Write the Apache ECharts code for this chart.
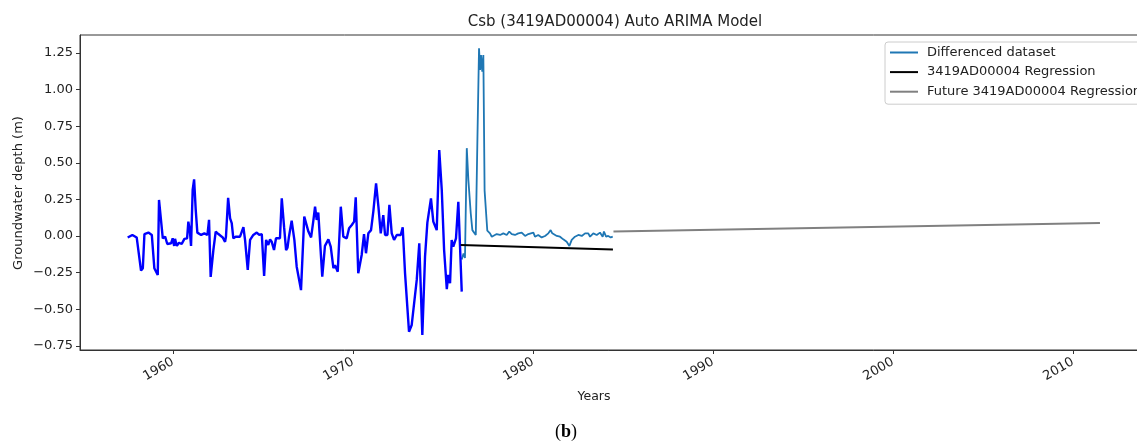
<!DOCTYPE html>
<html>
<head>
<meta charset="utf-8">
<script src="https://cdn.jsdelivr.net/npm/echarts@6/dist/echarts.min.js"></script>
<style>
html,body{margin:0;padding:0;background:#fff;overflow:hidden;}
#chart{width:1137px;height:443px;}
</style>
</head>
<body>
<div id="chart"></div>
<script>
// Observed (blue) series: [year, value]
const observedYears = [1957.48,1957.74,1957.98,1958.07,1958.22,1958.32,1958.41,1958.63,1958.82,1958.96,1959.15,1959.22,1959.32,1959.43,1959.56,1959.68,1959.89,1959.98,1960.06,1960.11,1960.21,1960.33,1960.48,1960.63,1960.78,1960.85,1960.93,1961.00,1961.09,1961.17,1961.26,1961.35,1961.56,1961.74,1961.91,1962.00,1962.09,1962.24,1962.37,1962.52,1962.76,1962.89,1962.94,1963.06,1963.17,1963.26,1963.35,1963.48,1963.72,1963.82,1963.91,1964.00,1964.15,1964.28,1964.46,1964.65,1964.79,1964.93,1965.06,1965.17,1965.29,1965.39,1965.48,1965.61,1965.72,1965.94,1966.04,1966.17,1966.28,1966.36,1966.44,1966.59,1966.74,1966.87,1966.96,1967.11,1967.29,1967.52,1967.67,1967.79,1967.89,1967.98,1968.07,1968.17,1968.29,1968.44,1968.63,1968.76,1968.91,1969.00,1969.15,1969.32,1969.46,1969.65,1969.78,1969.93,1970.06,1970.15,1970.29,1970.48,1970.61,1970.72,1970.85,1971.00,1971.13,1971.28,1971.41,1971.54,1971.68,1971.78,1971.91,1972.02,1972.15,1972.28,1972.43,1972.65,1972.76,1972.89,1973.11,1973.26,1973.54,1973.68,1973.85,1974.00,1974.13,1974.24,1974.33,1974.46,1974.65,1974.79,1974.93,1975.06,1975.21,1975.29,1975.39,1975.48,1975.57,1975.72,1975.85,1976.04];
const observedValues = [-0.01,0.007,-0.01,-0.016,-0.237,-0.22,0.013,0.023,0.007,-0.22,-0.266,0.246,0.234,-0.016,-0.005,-0.055,-0.05,-0.016,-0.068,-0.02,-0.068,-0.046,-0.055,-0.02,-0.016,0.098,0.04,-0.068,0.314,0.387,0.178,0.023,0.007,0.018,0.007,0.11,-0.28,-0.096,0.03,0.013,-0.01,-0.04,-0.005,0.26,0.12,0.087,-0.016,-0.005,-0.005,0.007,0.06,-0.027,-0.232,-0.027,0.007,0.023,0.007,0.013,-0.273,-0.027,-0.061,-0.023,-0.039,-0.096,-0.016,-0.016,0.257,0.06,-0.096,-0.08,-0.005,0.105,-0.027,-0.21,-0.2,-0.37,0.132,0.03,-0.01,0.1,0.2,0.11,0.16,0.166,-0.278,-0.068,-0.023,-0.073,-0.22,-0.2,-0.244,0.2,-0.005,-0.016,0.053,0.075,0.098,0.264,-0.255,-0.13,0.012,-0.118,0.018,0.04,0.17,0.36,0.2,0.018,0.143,0.007,0.007,0.212,0.018,-0.027,0.007,0.007,0.06,-0.255,-0.654,-0.608,-0.3,-0.05,-0.676,-0.141,0.091,0.087,0.257,0.098,0.04,0.587,0.314,-0.096,-0.364,-0.266,-0.323,-0.027,-0.073,-0.016,0.234,-0.38];

// Differenced dataset (light blue)
const diffYears = [1976.04,1976.14,1976.22,1976.32,1976.41,1976.54,1976.63,1976.74,1976.82,1976.91,1977.00,1977.06,1977.11,1977.18,1977.24,1977.31,1977.46,1977.61,1977.71,1977.79,1977.98,1978.17,1978.35,1978.54,1978.68,1978.82,1979.00,1979.18,1979.37,1979.56,1979.74,1979.83,1980.02,1980.11,1980.29,1980.48,1980.67,1980.85,1980.98,1981.07,1981.17,1981.32,1981.50,1981.68,1981.87,1982.02,1982.15,1982.33,1982.52,1982.71,1982.89,1983.07,1983.17,1983.35,1983.54,1983.72,1983.87,1983.94,1984.06,1984.18,1984.32,1984.43];
const diffValues = [-0.16,-0.12,-0.15,0.6,0.38,0.155,0.04,0.03,0.007,0.656,1.282,1.134,1.236,1.122,1.236,0.31,0.036,0.018,-0.005,0.007,0.013,0.007,0.018,0.007,0.03,0.013,0.007,0.018,0.023,0,0.013,0.018,0.023,-0.005,0.007,-0.01,0,0.018,0.04,0.018,0.03,0,-0.005,-0.023,-0.04,-0.068,-0.027,-0.005,0.007,0,0.018,0.018,-0.005,0.018,0.007,0.023,-0.005,0.03,-0.005,0,-0.01,-0.005];

// Regression lines
const regYears = [1975.98, 1984.44];
const regValues = [-0.062, -0.093];
const futureYears = [1984.47, 2011.5];
const futureValues = [0.03, 0.089];

// Tick labels
const xTicks = [1960, 1970, 1980, 1990, 2000, 2010];
const yTicks = [-0.75, -0.5, -0.25, 0, 0.25, 0.5, 0.75, 1.0, 1.25];

const zip = (xs, ys) => xs.map((x, i) => [x, ys[i]]);

const chart = echarts.init(document.getElementById('chart'), null, {renderer: 'canvas'});
const font = 'DejaVu Sans';
const option = {
  animation: false,
  backgroundColor: '#fff',
  title: {
    text: 'Csb (3419AD00004) Auto ARIMA Model',
    left: 610, top: 10, textAlign: 'center',
    textStyle: {fontFamily: font, fontSize: 15, fontWeight: 'normal', color: '#222'}
  },
  grid: {left: 80, width: 1070, top: 35, height: 315, outerBoundsMode: 'none', containLabel: false,
    show: true, borderColor: '#333', borderWidth: 1, backgroundColor: 'transparent'},
  legend: {
    orient: 'vertical', left: 885, top: 42,
    padding: [4, 8, 6, 5], itemWidth: 28, itemHeight: 2, itemGap: 6.6, icon: 'rect',
    borderColor: '#ccc', borderWidth: 1, borderRadius: 3, backgroundColor: '#fff',
    textStyle: {fontFamily: font, fontSize: 13, color: '#222', padding: [0, 0, 0, 4]},
    data: ['Differenced dataset', '3419AD00004 Regression', 'Future 3419AD00004 Regression']
  },
  xAxis: {
    type: 'value', min: 1954.83, max: 2014.28,
    axisLine: {show: true, onZero: false, lineStyle: {color: '#333'}},
    splitLine: {show: false},
    axisTick: {show: true, length: 4, customValues: xTicks, lineStyle: {color: '#333'}},
    axisLabel: {customValues: xTicks, rotate: 30, margin: 11, fontFamily: font, fontSize: 13, color: '#222',
      formatter: v => String(v)}
  },
  yAxis: {
    type: 'value', min: -0.779, max: 1.373,
    axisLine: {show: true, onZero: false, lineStyle: {color: '#333'}},
    splitLine: {show: false},
    axisTick: {show: true, length: 4, customValues: yTicks, lineStyle: {color: '#333'}},
    axisLabel: {customValues: yTicks, margin: 7, fontFamily: font, fontSize: 13, color: '#222',
      formatter: v => (v < 0 ? '\u2212' : '') + Math.abs(v).toFixed(2)}
  },
  graphic: [
    {type: 'text', x: 19, y: 193, rotation: Math.PI / 2,
      style: {text: 'Groundwater depth (m)', font: '13px "DejaVu Sans"', fill: '#222', textAlign: 'center', textVerticalAlign: 'middle'}},
    {type: 'text', x: 594, y: 397,
      style: {text: 'Years', font: '12.5px "DejaVu Sans"', fill: '#222', textAlign: 'center', textVerticalAlign: 'middle'}},
    {type: 'text', x: 566, y: 432,
      style: {text: '({b|b})', rich: {b: {fontWeight: 'bold', fontFamily: 'Liberation Serif', fontSize: 18, fill: '#000'}},
        font: '18px "Liberation Serif"', fill: '#000', textAlign: 'center', textVerticalAlign: 'middle'}}
  ],
  series: [
    {name: 'Differenced dataset', type: 'line', data: zip(diffYears, diffValues), showSymbol: false, symbol: 'none',
      lineStyle: {color: '#1f77b4', width: 1.8}, itemStyle: {color: '#1f77b4'}, z: 2},
    {name: 'Observed', type: 'line', data: zip(observedYears, observedValues), showSymbol: false, symbol: 'none',
      lineStyle: {color: '#0000ff', width: 2.4}, itemStyle: {color: '#0000ff'}, z: 3},
    {name: '3419AD00004 Regression', type: 'line', data: zip(regYears, regValues), showSymbol: false, symbol: 'none',
      lineStyle: {color: '#000', width: 2}, itemStyle: {color: '#000'}, z: 4},
    {name: 'Future 3419AD00004 Regression', type: 'line', data: zip(futureYears, futureValues), showSymbol: false, symbol: 'none',
      lineStyle: {color: '#808080', width: 2}, itemStyle: {color: '#808080'}, z: 4}
  ]
};
chart.setOption(option);
</script>
</body>
</html>
